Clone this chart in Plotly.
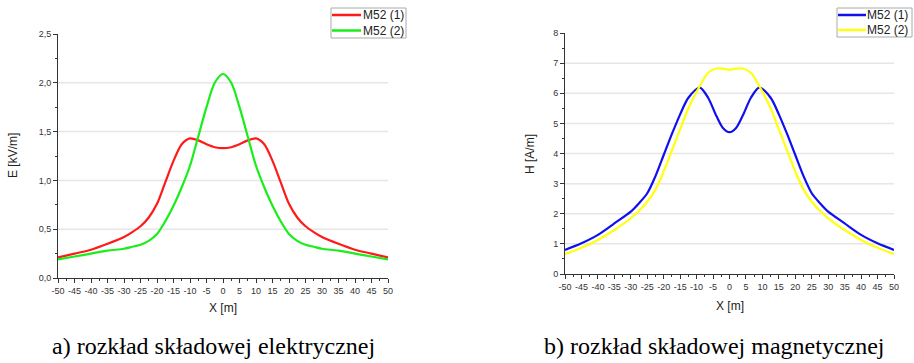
import plotly.graph_objects as go

# ---- data ----
x_m = [-50, -45, -40, -35, -30, -27.5, -25, -22.5, -20, -17.5, -15, -12.5, -10, -7.5, -5, -2.5,
       0, 2.5, 5, 7.5, 10, 12.5, 15, 17.5, 20, 22.5, 25, 27.5, 30, 35, 40, 45, 50]

E_m52_1 = [0.21, 0.25, 0.29, 0.35, 0.42, 0.47, 0.53, 0.62, 0.76, 0.98, 1.20, 1.37, 1.43, 1.41, 1.37, 1.34,
           1.33, 1.34, 1.37, 1.41, 1.43, 1.37, 1.20, 0.98, 0.76, 0.62, 0.53, 0.47, 0.42, 0.35, 0.29, 0.25, 0.21]
E_m52_2 = [0.19, 0.22, 0.25, 0.28, 0.30, 0.32, 0.34, 0.38, 0.45, 0.58, 0.74, 0.93, 1.15, 1.45, 1.75, 2.00,
           2.09, 2.00, 1.75, 1.45, 1.15, 0.93, 0.74, 0.58, 0.45, 0.38, 0.34, 0.32, 0.30, 0.28, 0.25, 0.22, 0.19]

x_h = [-50, -45, -40, -35, -30, -27.5, -25, -22.5, -20, -17.5, -15, -12.5, -9, -6.5, -4, -2,
       0, 2, 4, 6.5, 9, 12.5, 15, 17.5, 20, 22.5, 25, 27.5, 30, 35, 40, 45, 50]

H_m52_1 = [0.80, 1.02, 1.30, 1.68, 2.07, 2.35, 2.68, 3.25, 3.95, 4.65, 5.30, 5.85, 6.19, 5.85, 5.25, 4.85,
           4.71, 4.85, 5.25, 5.85, 6.19, 5.85, 5.30, 4.65, 3.95, 3.25, 2.68, 2.35, 2.07, 1.68, 1.30, 1.02, 0.80]
H_m52_2 = [0.66, 0.87, 1.13, 1.46, 1.85, 2.10, 2.40, 2.80, 3.40, 4.10, 4.80, 5.50, 6.25, 6.68, 6.82, 6.82,
           6.78, 6.82, 6.82, 6.68, 6.25, 5.50, 4.80, 4.10, 3.40, 2.80, 2.40, 2.10, 1.85, 1.46, 1.13, 0.87, 0.66]

series_names = ["M52 (1)", "M52 (2)"]
x_tick_vals = list(range(-50, 51, 5))
x_tick_text = [str(v) for v in x_tick_vals]
E_grid = [0.5, 1.0, 1.5, 2.0]
H_grid = [1, 2, 3, 4, 5, 6, 7]

captions = ["a) rozkład składowej elektrycznej", "b) rozkład składowej magnetycznej"]

# ---- style ----
W, H = 914, 363
def px(x):
    return x / W
def py(y):
    return 1 - y / H

AX = "#333333"
GRID = "#e6e6e6"
TICKFONT = dict(family="Liberation Sans, Arial", size=9, color="#333333")
TITLEFONT = dict(family="Liberation Sans, Arial", size=12, color="#222222")

fig = go.Figure()

line_smooth = dict(shape="spline", smoothing=0.8, width=2.2)
fig.add_trace(go.Scatter(x=x_m, y=E_m52_1, mode="lines", name=series_names[0],
                         line=dict(color="#ff1a1a", **line_smooth), xaxis="x", yaxis="y", showlegend=False))
fig.add_trace(go.Scatter(x=x_m, y=E_m52_2, mode="lines", name=series_names[1],
                         line=dict(color="#1aee1a", **line_smooth), xaxis="x", yaxis="y", showlegend=False))
fig.add_trace(go.Scatter(x=x_h, y=H_m52_1, mode="lines", name=series_names[0],
                         line=dict(color="#1010ee", **line_smooth), xaxis="x2", yaxis="y2", showlegend=False))
fig.add_trace(go.Scatter(x=x_h, y=H_m52_2, mode="lines", name=series_names[1],
                         line=dict(color="#ffff10", **line_smooth), xaxis="x2", yaxis="y2", showlegend=False))

def xaxis_cfg(domain, anchor):
    return dict(domain=domain, anchor=anchor, range=[-50, 50], tickvals=x_tick_vals, ticktext=x_tick_text,
                showline=True, linecolor=AX, linewidth=1, ticks="outside", ticklen=4, tickcolor=AX,
                tickfont=TICKFONT, showgrid=False, zeroline=False, automargin=False,
                minor=dict(dtick=2.5, ticks="outside", ticklen=2, tickcolor=AX, showgrid=False))

def yaxis_cfg(domain, anchor, rng, dtick, mdtick, fmt):
    return dict(domain=domain, anchor=anchor, range=rng, dtick=dtick, tick0=0, tickformat=fmt,
                showline=True, linecolor=AX, linewidth=1, ticks="outside", ticklen=4, tickcolor=AX,
                tickfont=TICKFONT, showgrid=False, zeroline=False, automargin=False,
                minor=dict(dtick=mdtick, ticks="outside", ticklen=2, tickcolor=AX, showgrid=False))

fig.update_layout(
    width=W, height=H, margin=dict(l=0, r=0, t=0, b=0, pad=0, autoexpand=False),
    paper_bgcolor="white", plot_bgcolor="white", separators=",.",
    xaxis=xaxis_cfg([px(58), px(388)], "y"),
    yaxis=yaxis_cfg([py(278), py(34)], "x", [0, 2.5], 0.5, 0.25, ".1f"),
    xaxis2=xaxis_cfg([px(565), px(894)], "y2"),
    yaxis2=yaxis_cfg([py(274), py(33)], "x2", [0, 8], 1, 0.5, "d"),
    showlegend=False,
)

shapes = []
for v in E_grid:
    shapes.append(dict(type="line", xref="x", yref="y", x0=-50, x1=50, y0=v, y1=v,
                       line=dict(color=GRID, width=1.5), layer="below"))
for v in H_grid:
    shapes.append(dict(type="line", xref="x2", yref="y2", x0=-50, x1=50, y0=v, y1=v,
                       line=dict(color=GRID, width=1.5), layer="below"))

annotations = []
def ann(text, x, y, font, angle=0, xanchor="center"):
    annotations.append(dict(text=text, x=px(x), y=py(y), xref="paper", yref="paper",
                            xanchor=xanchor, yanchor="middle", textangle=angle,
                            showarrow=False, font=font))

# axis titles
ann("E [kV/m]", 13, 156, TITLEFONT, -90)
ann("X [m]", 223, 308, TITLEFONT)
ann("H [A/m]", 530, 154, TITLEFONT, -90)
ann("X [m]", 730, 306, TITLEFONT)
# captions
CAPFONT = dict(family="Liberation Serif, Times New Roman", size=24, color="#000000")
ann(captions[0], 213, 346, CAPFONT)
ann(captions[1], 714, 346, CAPFONT)

# legends (drawn boxes)
LEGFONT = dict(family="Liberation Sans, Arial", size=12, color="#222222")
def legend(x0, x1, y0, y1, colors, rows, line_x0, line_x1, text_x):
    shapes.append(dict(type="rect", xref="paper", yref="paper", x0=px(x0), x1=px(x1), y0=py(y1), y1=py(y0),
                       line=dict(color="#aaaaaa", width=1), fillcolor="white"))
    for c, ry, name in zip(colors, rows, series_names):
        shapes.append(dict(type="line", xref="paper", yref="paper", x0=px(line_x0), x1=px(line_x1),
                           y0=py(ry), y1=py(ry), line=dict(color=c, width=2.5)))
        ann(name, text_x, ry, LEGFONT, 0, "left")

legend(331, 406, 8, 38, ["#ff1a1a", "#1aee1a"], [15, 30.5], 332, 361, 361)
legend(837, 912, 8, 37, ["#1010ee", "#ffff10"], [15, 30], 838, 866, 865)

fig.update_layout(shapes=shapes, annotations=annotations)

fig.write_html("out.html")
